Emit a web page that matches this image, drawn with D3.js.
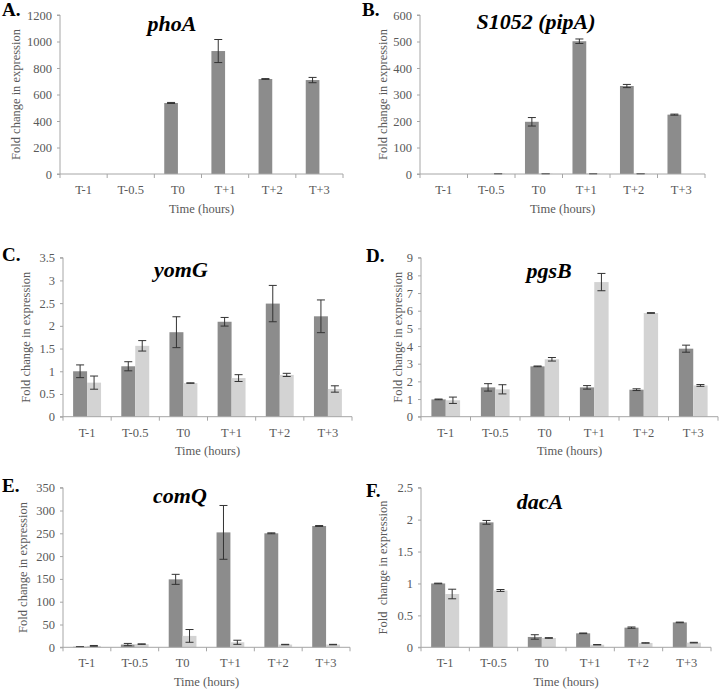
<!DOCTYPE html>
<html>
<head>
<meta charset="utf-8">
<script src="https://cdn.jsdelivr.net/npm/d3@7"></script>
<style>
  html, body { margin: 0; padding: 0; background: #fff; }
  svg { display: block; }
  text { font-family: "Liberation Serif", "Times New Roman", serif; }
</style>
</head>
<body>
<svg id="chart" width="720" height="689"></svg>
<script>
// ---------- DATA ----------
const categories = ["T-1", "T-0.5", "T0", "T+1", "T+2", "T+3"];
const panelLetters = ["A.", "B.", "C.", "D.", "E.", "F."];
const geneNames = ["phoA", "S1052 (pipA)", "yomG", "pgsB", "comQ", "dacA"];
const yTitles = ["Fold change in expression", "Fold change in expression", "Fold change in expression",
                 "Fold change in expression", "Fold change in expression", "Fold  change in expression"];
const xTitle = "Time (hours)";

// y-axis maxima and tick steps
const yMax  = [1200, 600, 3.5, 9, 350, 2.5];
const yStep = [200, 100, 0.5, 1, 50, 0.5];

// A. phoA
const phoA_dark     = [0, 0, 536, 928, 717, 709];
const phoA_darkErr  = [0, 0, 4, 87, 3, 20];
const phoA_light    = [0, 0, 0, 0, 0, 0];
const phoA_lightErr = [0, 0, 0, 0, 0, 0];
// B. S1052 (pipA)
const pipA_dark     = [0, 0, 197, 501, 332, 224];
const pipA_darkErr  = [0, 0, 16, 8.5, 6, 2];
const pipA_light    = [0, 1, 1, 1, 1, 0];
const pipA_lightErr = [0, 0.5, 0.5, 0.5, 0.5, 0];
// C. yomG
const yomG_dark     = [1.0, 1.11, 1.86, 2.09, 2.49, 2.21];
const yomG_darkErr  = [0.14, 0.1, 0.34, 0.095, 0.4, 0.36];
const yomG_light    = [0.75, 1.56, 0.74, 0.85, 0.92, 0.61];
const yomG_lightErr = [0.145, 0.115, 0.005, 0.075, 0.035, 0.07];
// D. pgsB
const pgsB_dark     = [0.98, 1.66, 2.85, 1.66, 1.53, 3.85];
const pgsB_darkErr  = [0.02, 0.21, 0.02, 0.1, 0.05, 0.2];
const pgsB_light    = [0.93, 1.55, 3.25, 7.62, 5.87, 1.77];
const pgsB_lightErr = [0.18, 0.26, 0.1, 0.49, 0.02, 0.05];
// E. comQ
const comQ_dark     = [1.2, 6, 149, 252, 250, 266];
const comQ_darkErr  = [0.3, 2.5, 11, 59, 1, 1];
const comQ_light    = [3, 7, 25, 11, 6, 6];
const comQ_lightErr = [1, 0.5, 14, 4.5, 0.5, 0.5];
// F. dacA
const dacA_dark     = [1.0, 1.957, 0.162, 0.219, 0.308, 0.39];
const dacA_darkErr  = [0.005, 0.03, 0.035, 0.005, 0.01, 0.005];
const dacA_light    = [0.835, 0.89, 0.146, 0.04, 0.068, 0.073];
const dacA_lightErr = [0.075, 0.015, 0.005, 0.003, 0.003, 0.005];

const darkSeries     = [phoA_dark, pipA_dark, yomG_dark, pgsB_dark, comQ_dark, dacA_dark];
const darkErrSeries  = [phoA_darkErr, pipA_darkErr, yomG_darkErr, pgsB_darkErr, comQ_darkErr, dacA_darkErr];
const lightSeries    = [phoA_light, pipA_light, yomG_light, pgsB_light, comQ_light, dacA_light];
const lightErrSeries = [phoA_lightErr, pipA_lightErr, yomG_lightErr, pgsB_lightErr, comQ_lightErr, dacA_lightErr];

// ---------- LAYOUT ----------
const layout = [
  { x0: 60,  x1: 343, y0: 15,    y1: 174,   lx: 2,   lb: 16,  tx: 172, tb: 31,  yt: 16 },
  { x0: 420, x1: 705, y0: 15,    y1: 174,   lx: 362, lb: 16,  tx: 536, tb: 29,  yt: 383 },
  { x0: 63,  x1: 352, y0: 257.7, y1: 416.7, lx: 2,   lb: 261, tx: 181, tb: 277, yt: 26 },
  { x0: 421, x1: 718, y0: 257.7, y1: 416.7, lx: 366, lb: 262, tx: 549, tb: 278, yt: 398 },
  { x0: 63,  x1: 350, y0: 487.7, y1: 647.3, lx: 2,   lb: 492, tx: 180, tb: 503, yt: 23 },
  { x0: 421, x1: 711, y0: 487.7, y1: 647.3, lx: 366, lb: 497, tx: 540, tb: 509, yt: 383 }
];

const DARK = "#8c8c8c", LIGHT = "#d3d3d3", AXIS = "#a6a6a6", LABEL = "#595959", ERR = "#333333";

const svg = d3.select("#chart");

layout.forEach((L, i) => {
  const g = svg.append("g");
  const x = d3.scaleBand().domain(categories).range([L.x0, L.x1]).paddingInner(0.42).paddingOuter(0.21);
  const sub = d3.scaleBand().domain(["dark", "light"]).range([0, x.bandwidth()]);
  const y = d3.scaleLinear().domain([0, yMax[i]]).range([L.y1, L.y0]);
  const tickVals = d3.range(0, yMax[i] + yStep[i] / 2, yStep[i]);

  // bars
  const series = [
    { key: "dark",  vals: darkSeries[i],  errs: darkErrSeries[i],  color: DARK },
    { key: "light", vals: lightSeries[i], errs: lightErrSeries[i], color: LIGHT }
  ];
  series.forEach(s => {
    const data = categories.map((c, k) => ({ c, v: s.vals[k], e: s.errs[k] }));
    g.append("g").selectAll("rect").data(data.filter(d => d.v > 0)).join("rect")
      .attr("x", d => x(d.c) + sub(s.key))
      .attr("width", sub.bandwidth())
      .attr("y", d => y(d.v))
      .attr("height", d => y(0) - y(d.v))
      .attr("fill", s.color);
    const eg = g.append("g").attr("stroke", ERR).attr("stroke-width", 1).attr("fill", "none");
    data.filter(d => d.v > 0 || d.e > 0).forEach(d => {
      const cx = x(d.c) + sub(s.key) + sub.bandwidth() / 2;
      const yt = y(d.v + d.e), yb = y(Math.max(0, d.v - d.e));
      eg.append("line").attr("x1", cx).attr("x2", cx).attr("y1", yt).attr("y2", yb);
      eg.append("line").attr("x1", cx - 4).attr("x2", cx + 4).attr("y1", yt).attr("y2", yt);
      eg.append("line").attr("x1", cx - 4).attr("x2", cx + 4).attr("y1", yb).attr("y2", yb);
    });
  });

  // y axis
  const yAxis = d3.axisLeft(y).tickValues(tickVals).tickSize(3).tickPadding(5)
    .tickFormat(d => d3.format("~g")(+d.toFixed(3)));
  const ya = g.append("g").attr("transform", `translate(${L.x0},0)`).call(yAxis);
  ya.select(".domain").attr("stroke", AXIS).attr("d", `M-3,${L.y1}H0V${L.y0}H-3`);
  ya.selectAll(".tick line").attr("stroke", AXIS);
  ya.selectAll(".tick text").attr("fill", LABEL).attr("font-size", 12.5)
    .attr("font-family", "Liberation Serif, serif");

  // x axis with boundary ticks
  const xa = g.append("g").attr("transform", `translate(0,${L.y1})`);
  xa.append("line").attr("x1", L.x0).attr("x2", L.x1).attr("y1", 0).attr("y2", 0).attr("stroke", AXIS);
  const bounds = d3.range(categories.length + 1).map(k => L.x0 + k * x.step());
  xa.selectAll(".bt").data(bounds).join("line")
    .attr("x1", d => d).attr("x2", d => d).attr("y1", 0).attr("y2", 4).attr("stroke", AXIS);
  xa.selectAll(".xl").data(categories).join("text")
    .attr("x", d => x(d) + x.bandwidth() / 2)
    .attr("y", 20)
    .attr("text-anchor", "middle")
    .attr("fill", LABEL).attr("font-size", 12.5)
    .text(d => d);

  // axis titles
  g.append("text")
    .attr("x", (L.x0 + L.x1) / 2).attr("y", L.y1 + 38.5)
    .attr("text-anchor", "middle").attr("fill", LABEL).attr("font-size", 12.5)
    .text(xTitle);
  g.append("text")
    .attr("transform", `translate(${L.yt + 4},${(L.y0 + L.y1) / 2}) rotate(-90)`)
    .attr("text-anchor", "middle").attr("fill", LABEL).attr("font-size", 12.5)
    .style("white-space", "pre")
    .text(yTitles[i]);

  // panel letter and gene title
  g.append("text").attr("x", L.lx).attr("y", L.lb)
    .attr("font-weight", "bold").attr("font-size", 19).attr("fill", "#000")
    .text(panelLetters[i]);
  g.append("text").attr("x", L.tx).attr("y", L.tb)
    .attr("text-anchor", "middle")
    .attr("font-weight", "bold").attr("font-style", "italic").attr("font-size", 22).attr("fill", "#000")
    .text(geneNames[i]);
});
</script>
</body>
</html>
